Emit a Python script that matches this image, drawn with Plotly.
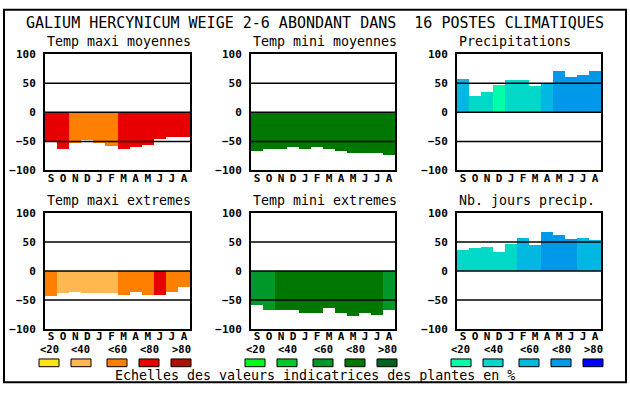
import plotly.graph_objects as go

# ---------------- data ----------------
months = ["S", "O", "N", "D", "J", "F", "M", "A", "M", "J", "J", "A"]
panel_titles = ["Temp maxi moyennes", "Temp mini moyennes", "Precipitations",
                "Temp maxi extremes", "Temp mini extremes", "Nb. jours precip."]

temp_maxi_moy = [-50, -63, -54, -48, -53, -58, -63, -61, -56, -46, -43, -43]
temp_maxi_moy_cls = [3, 3, 2, 2, 2, 2, 3, 3, 3, 3, 3, 3]
temp_mini_moy = [-68, -64, -63, -61, -64, -61, -64, -68, -71, -71, -71, -74]
temp_mini_moy_cls = [3, 3, 3, 3, 3, 3, 3, 3, 3, 3, 3, 3]
precip = [57, 27, 35, 47, 55, 55, 44, 49, 70, 60, 63, 70]
precip_cls = [2, 1, 1, 0, 1, 1, 1, 2, 3, 3, 3, 3]
temp_maxi_ext = [-43, -38, -37, -38, -38, -38, -42, -37, -42, -42, -37, -28]
temp_maxi_ext_cls = [2, 1, 1, 1, 1, 1, 2, 2, 2, 3, 2, 2]
temp_mini_ext = [-58, -68, -67, -68, -72, -72, -63, -73, -77, -73, -75, -67]
temp_mini_ext_cls = [2, 2, 3, 3, 3, 3, 3, 3, 3, 3, 3, 2]
jours_precip = [37, 40, 42, 32, 47, 57, 45, 67, 62, 55, 57, 53]
jours_precip_cls = [1, 1, 1, 1, 1, 2, 2, 3, 3, 3, 2, 2]

legend_labels = ["<20", "<40", "<60", "<80", ">80"]
y_ticks = [-100, -50, 0, 50, 100]

title_text = "GALIUM HERCYNICUM WEIGE 2-6 ABONDANT DANS  16 POSTES CLIMATIQUES"
footer_text = "Echelles des valeurs indicatrices des plantes en %"

# ---------------- styles ----------------
warm = ["#f8e418", "#ffb850", "#ff8000", "#e80000", "#b01000"]
green = ["#00ff18", "#00c830", "#009828", "#007800", "#006020"]
blue = ["#00ffa8", "#00d8c8", "#00b8e0", "#0098e8", "#0000ff"]

W, H = 630, 394
MONO = "DejaVu Sans Mono"

def px(x):
    return x / W

def py(y):
    return 1 - y / H

col_x = [(45, 190), (251, 395), (457, 601)]
row_y = [(50, 170), (214, 334)]

panels = [
    (temp_maxi_moy, temp_maxi_moy_cls, warm),
    (temp_mini_moy, temp_mini_moy_cls, green),
    (precip, precip_cls, blue),
    (temp_maxi_ext, temp_maxi_ext_cls, warm),
    (temp_mini_ext, temp_mini_ext_cls, green),
    (jours_precip, jours_precip_cls, blue),
]

fig = go.Figure()
shapes = []
annotations = []
layout = {}

for i, (vals, cls, pal) in enumerate(panels):
    r, c = divmod(i, 3)
    n = "" if i == 0 else str(i + 1)
    x0, x1 = col_x[c]
    y0, y1 = row_y[r]
    fig.add_trace(go.Bar(
        x=list(range(len(months))), y=vals,
        marker=dict(color=[pal[k] for k in cls], line=dict(width=0)),
        xaxis="x" + n, yaxis="y" + n, showlegend=False, hoverinfo="skip",
    ))
    layout["xaxis" + n] = dict(
        domain=[px(x0), px(x1)], anchor="y" + n, range=[-0.5, 11.5],
        tickmode="array", tickvals=list(range(12)), ticktext=months,
        showgrid=False, zeroline=False, showline=True, linecolor="black",
        linewidth=2, mirror=True, ticks="", ticklabelstandoff=-4,
        tickfont=dict(family=MONO, size=11, color="black", weight="bold"),
        layer="above traces", fixedrange=True,
    )
    layout["yaxis" + n] = dict(
        domain=[py(y1), py(y0)], anchor="x" + n, range=[-100, 100],
        tickmode="array", tickvals=y_ticks,
        showgrid=False, zeroline=False, showline=True, linecolor="black",
        linewidth=2, mirror=True, ticks="", ticklabelstandoff=5,
        tickfont=dict(family=MONO, size=11, color="black", weight="bold"),
        layer="above traces", fixedrange=True,
    )
    for g in (-50, 0, 50):
        shapes.append(dict(type="line", xref="x" + n + " domain", yref="y" + n,
                           x0=0, x1=1, y0=g, y1=g, layer="above",
                           line=dict(color="black", width=1.5)))
    annotations.append(dict(text=panel_titles[i], x=px(x0), y=py(y0 - 13),
                            xref="paper", yref="paper", xanchor="left", yanchor="middle",
                            showarrow=False,
                            font=dict(family=MONO, size=13.3, color="black")))

# title and footer
annotations.append(dict(text=title_text, x=0.5, y=py(18), xref="paper", yref="paper",
                        xanchor="center", yanchor="middle", showarrow=False,
                        font=dict(family=MONO, size=15, color="black")))
annotations.append(dict(text=footer_text, x=px(315), y=py(382), xref="paper", yref="paper",
                        xanchor="center", yanchor="middle", showarrow=False,
                        font=dict(family=MONO, size=13.3, color="black")))

# legend swatches (colour scales)
swatch_offsets = [0, 32, 68, 100, 132]
for c, pal in enumerate([warm, green, blue]):
    gx = col_x[c][0] - 6
    for k, lab in enumerate(legend_labels):
        bx = gx + swatch_offsets[k]
        shapes.append(dict(type="rect", xref="paper", yref="paper",
                           x0=px(bx), x1=px(bx + 20), y0=py(373), y1=py(365),
                           fillcolor=pal[k], line=dict(color="black", width=1)))
        annotations.append(dict(text=lab, x=px(bx + 10), y=py(355), xref="paper", yref="paper",
                                xanchor="center", yanchor="middle", showarrow=False,
                                font=dict(family=MONO, size=10.5, color="black", weight="bold")))

# outer frame
shapes.append(dict(type="rect", xref="paper", yref="paper",
                   x0=px(4), x1=px(626), y0=py(389), y1=py(4),
                   line=dict(color="black", width=2)))

fig.update_layout(
    width=W, height=H, margin=dict(l=0, r=0, t=0, b=0),
    paper_bgcolor="white", plot_bgcolor="white",
    bargap=0, shapes=shapes, annotations=annotations, **layout,
)

page_fix = (
    "document.documentElement.style.margin='0';"
    "document.body.style.margin='0';"
    "document.documentElement.style.overflow='hidden';"
)

fig.write_html("out.html", config={"displayModeBar": False}, post_script=page_fix)
